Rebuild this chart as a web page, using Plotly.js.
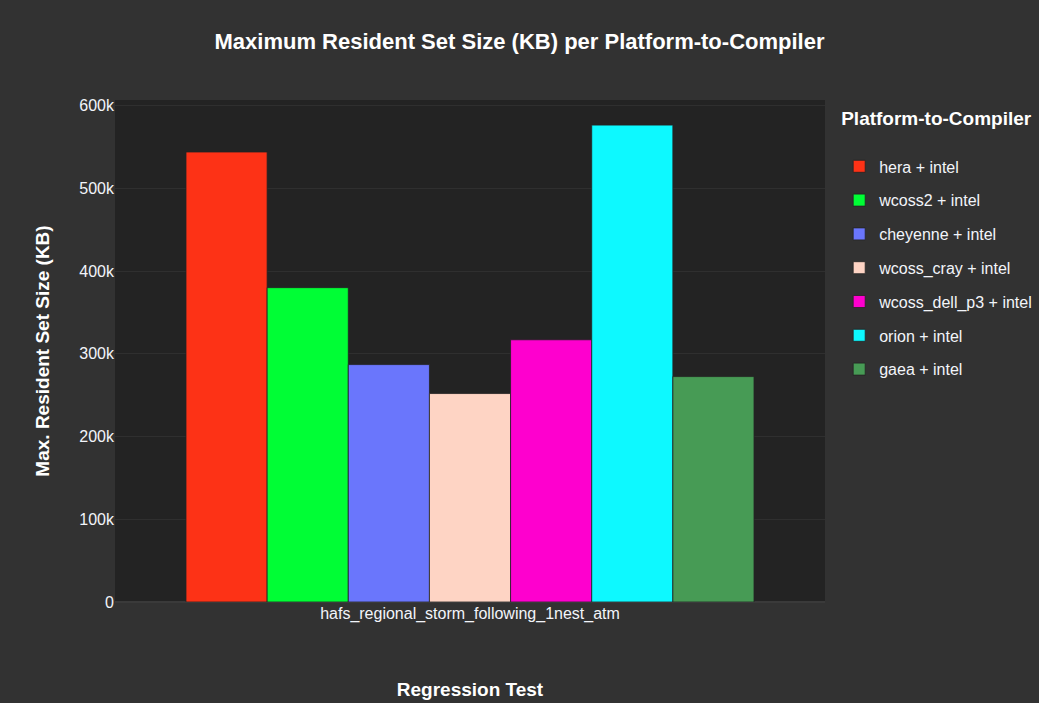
<!DOCTYPE html>
<html>
<head>
<meta charset="utf-8">
<script src="https://cdn.plot.ly/plotly-3.0.1.min.js"></script>
<style>html,body{margin:0;padding:0;background:#323232;}</style>
</head>
<body>
<div id="chart" style="width:1039px;height:703px;"></div>
<script>
const category = ["hafs_regional_storm_following_1nest_atm"];
const platforms = ["hera + intel", "wcoss2 + intel", "cheyenne + intel", "wcoss_cray + intel", "wcoss_dell_p3 + intel", "orion + intel", "gaea + intel"];
const maxRss = [544000, 380000, 287000, 252000, 317000, 576500, 272500];
const colors = ["#FD3216", "#00FE35", "#6A76FC", "#FED4C4", "#FE00CE", "#0DF9FF", "#479B55"];

const traces = platforms.map((p, i) => ({
  type: "bar",
  name: p,
  x: category,
  y: [maxRss[i]],
  legendgroup: p,
  marker: {color: colors[i], line: {color: "#232323", width: 0.8}}
}));

const layout = {
  width: 1039, height: 703,
  paper_bgcolor: "#323232",
  plot_bgcolor: "#232323",
  font: {family: "Liberation Sans, Arial, sans-serif", color: "#f2f5fa", size: 16},
  title: {text: "<b>Maximum Resident Set Size (KB) per Platform-to-Compiler</b>", x: 0.5, xanchor: "center", y: 0.952, font: {size: 22, color: "#ffffff"}},
  margin: {l: 115, r: 214, t: 100, b: 101, autoexpand: false},
  barmode: "group",
  bargap: 0.2,
  bargroupgap: 0,
  xaxis: {
    title: {text: "<b>Regression Test</b>", font: {size: 19, color: "#ffffff"}, standoff: 60},
    showgrid: false, showline: false, zeroline: false,
    tickfont: {size: 16}
  },
  yaxis: {
    title: {text: "<b>Max. Resident Set Size (KB)</b>", font: {size: 19, color: "#ffffff"}, standoff: 24},
    gridcolor: "#2f2f2f", zeroline: true, zerolinecolor: "#3a3a3a", zerolinewidth: 2,
    tickfont: {size: 16}, dtick: 100000, tickformat: "~s"
  },
  legend: {
    title: {text: "<b>Platform-to-Compiler</b><br> ", font: {size: 19, color: "#ffffff"}},
    font: {size: 16},
    tracegroupgap: 10,
    x: 1.02, y: 1, xanchor: "left", yanchor: "top"
  },
  showlegend: true
};

Plotly.newPlot("chart", traces, layout, {displayModeBar: false});
</script>
</body>
</html>
